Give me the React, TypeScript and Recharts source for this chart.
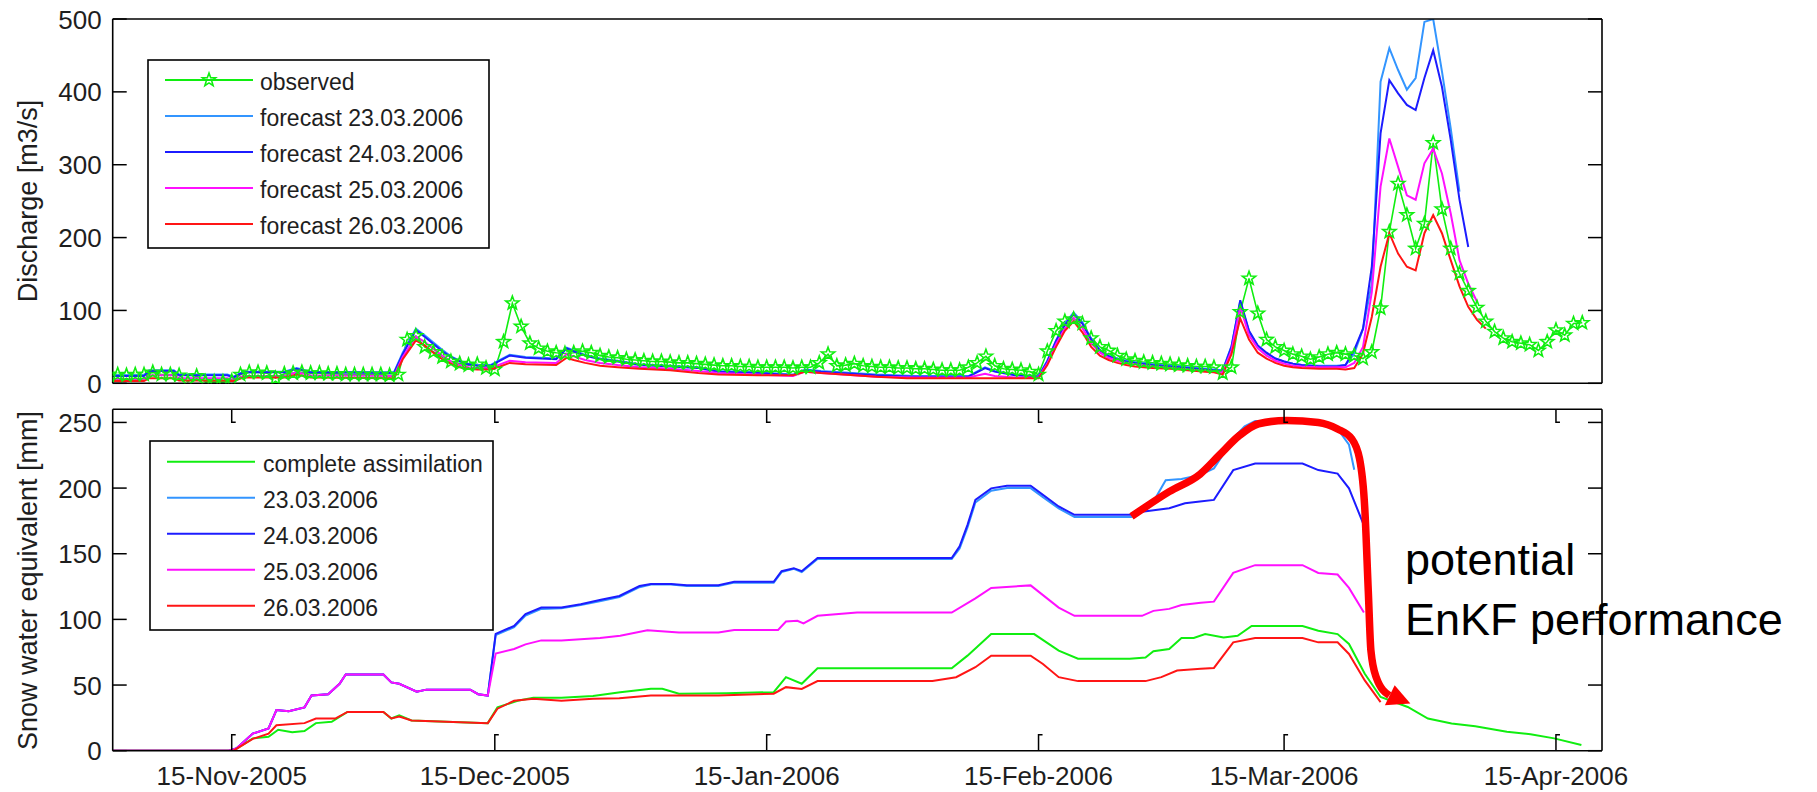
import React from 'react';
import { LineChart, Line, XAxis, YAxis, ReferenceDot } from 'recharts';

const FONT = '"Liberation Sans", Arial, Helvetica, sans-serif';
const INK = '#1e1e1e';

// x axis: day number counted from 1-Nov-2005 (0 = 1 Nov 2005)
const DAY_MIN = 0.43;
const DAY_MAX = 170.25;
const DATE_TICKS = [14, 44, 75, 106, 134, 165];
const DATE_LABELS = ['15-Nov-2005', '15-Dec-2005', '15-Jan-2006', '15-Feb-2006', '15-Mar-2006', '15-Apr-2006'];

const Q_TICKS = [0, 100, 200, 300, 400, 500];
const SWE_TICKS = [0, 50, 100, 150, 200, 250];

const GREEN = '#10ee10';
const LIGHT_BLUE = '#3395ff';
const BLUE = '#1c1cff';
const MAGENTA = '#ff10ff';
const RED = '#ff1515';

// observed daily discharge [m3/s], one value per day from 1-Nov-2005
const observedDischarge = [
  11, 12, 11, 12, 12, 15, 12, 12, 11, 2,
  10, 2, 2, 2, 3, 12, 15, 15, 14, 7,
  13, 14, 15, 14, 14, 13, 13, 12, 12, 12,
  12, 12, 11, 12, 60, 65, 50, 43, 36, 30,
  27, 25, 26, 21, 19, 57, 110, 78, 55, 48,
  44, 42, 41, 42, 44, 42, 38, 36, 35, 33,
  32, 31, 30, 30, 29, 28, 28, 27, 26, 25,
  24, 24, 23, 23, 22, 22, 22, 22, 21, 22,
  22, 28, 40, 24, 25, 27, 24, 23, 22, 22,
  21, 21, 20, 20, 19, 18, 18, 18, 22, 28,
  37, 24, 20, 19, 18, 16, 12, 44, 72, 85,
  88, 82, 62, 50, 45, 38, 33, 31, 29, 28,
  27, 26, 25, 24, 23, 23, 22, 14, 22, 98,
  144, 96, 60, 50, 45, 40, 37, 33, 36, 40,
  42, 40, 38, 34, 43, 103, 208, 274, 231, 185,
  219, 330, 239, 185, 151, 127, 104, 85, 71, 62,
  57, 55, 53, 45, 57, 73, 66, 82, 83,
];

// simulated discharge [day, m3/s] for the four forecast runs
const forecastQ23: [number, number][] = [
  [0, 11], [4, 11], [4.6, 18], [7.4, 18], [8, 12], [13.5, 12], [14.2, 9], [15.3, 16], [20, 16], [21.4, 21],
  [23, 16], [32.5, 15], [33.5, 42], [35, 75], [36, 66], [37, 56], [38, 46], [39, 37], [40, 31], [41, 27],
  [42, 25], [43.5, 25], [44.6, 32], [45.7, 39], [47.5, 36], [51, 34], [52.2, 49], [53, 45], [54.3, 39], [56, 34],
  [58, 31], [60.5, 26], [64, 24], [67.2, 22], [69.5, 17], [74, 15], [78, 12], [79.4, 19], [81.2, 17], [87.5, 12],
  [92, 10], [98, 10], [99.9, 22], [101, 17], [103.3, 12], [106, 10], [107, 31], [108, 59], [109, 82], [110, 97],
  [111, 84], [112, 61], [113, 46], [114, 38], [115, 34], [116, 31], [117, 29], [119, 26], [121, 24], [123, 22],
  [125, 20], [126, 19], [127, 18], [128, 51], [129, 112], [130, 71], [131, 51], [132, 41], [133, 34], [134, 30],
  [135, 27], [136, 25], [138, 24], [140, 24], [141, 25], [142, 41], [143, 75], [144, 137], [145, 414], [146, 460],
  [147, 430], [148, 403], [149, 419], [150, 496], [151, 500], [152, 428], [153, 350], [154, 263],
];

const forecastQ24: [number, number][] = [
  [0, 10], [4, 10], [4.6, 17], [7.4, 17], [8, 11], [13.5, 11], [14.2, 8], [15.3, 15], [20, 15], [21.4, 20],
  [23, 15], [32.5, 14], [33.5, 40], [35, 73], [36, 64], [37, 54], [38, 44], [39, 36], [40, 30], [41, 26],
  [42, 24], [43.5, 24], [44.6, 31], [45.7, 38], [47.5, 35], [51, 33], [52.2, 48], [53, 44], [54.3, 38], [56, 33],
  [58, 30], [60.5, 25], [64, 23], [67.2, 21], [69.5, 16], [74, 14], [78, 11], [79.4, 18], [81.2, 16], [87.5, 11],
  [92, 9], [98, 9], [99.9, 21], [101, 16], [103.3, 11], [106, 9], [107, 30], [108, 58], [109, 80], [110, 95],
  [111, 82], [112, 60], [113, 45], [114, 37], [115, 33], [116, 30], [117, 28], [119, 25], [121, 23], [123, 21],
  [125, 19], [126, 18], [127, 17], [128, 50], [129, 114], [130, 72], [131, 52], [132, 42], [133, 34], [134, 30],
  [135, 27], [136, 25], [138, 23], [140, 23], [141, 25], [142, 46], [143, 75], [144, 160], [145, 343], [146, 416],
  [147, 398], [148, 382], [149, 375], [150, 419], [151, 457], [152, 407], [153, 334], [154, 252], [155, 187],
];

const forecastQ25: [number, number][] = [
  [0, 6], [4, 6], [4.6, 11], [7.4, 11], [8, 7], [13.5, 7], [14.2, 5], [15.3, 10], [20, 10], [21.4, 15],
  [23, 11], [32.5, 10], [33.5, 36], [35, 64], [36, 57], [37, 47], [38, 38], [39, 30], [40, 25], [41, 22],
  [42, 21], [43.5, 21], [44.6, 26], [45.7, 31], [47.5, 29], [51, 28], [52.2, 40], [53, 37], [54.3, 32], [56, 28],
  [58, 25], [60.5, 22], [64, 20], [67.2, 17], [69.5, 14], [74, 12], [78, 10], [79.4, 16], [81.2, 14], [87.5, 9],
  [92, 8], [98, 8], [99.9, 13], [101, 10], [103.3, 8], [106, 8], [107, 27], [108, 54], [109, 75], [110, 90],
  [111, 76], [112, 55], [113, 42], [114, 35], [115, 31], [116, 28], [117, 26], [119, 23], [121, 21], [123, 19],
  [125, 17], [126, 16], [127, 15], [128, 45], [129, 105], [130, 66], [131, 48], [132, 38], [133, 31], [134, 27],
  [135, 24], [136, 23], [138, 22], [140, 22], [141, 22], [142, 28], [143, 50], [144, 125], [145, 270], [146, 336],
  [147, 297], [148, 258], [149, 252], [150, 302], [151, 322], [152, 288], [153, 233], [154, 169], [155, 137], [156, 112],
];

const forecastQ26: [number, number][] = [
  [0, 3], [4, 3], [4.6, 7], [7.4, 7], [8, 4], [13.5, 4], [14.2, 3], [15.3, 8], [20, 8], [21.4, 12],
  [23, 8], [32.5, 7], [33.5, 33], [35, 59], [36, 52], [37, 42], [38, 33], [39, 27], [40, 22], [41, 20],
  [42, 19], [43.5, 19], [44.6, 23], [45.7, 28], [47.5, 26], [51, 25], [52.2, 35], [53, 32], [54.3, 28], [56, 24],
  [58, 22], [60.5, 20], [64, 18], [67.2, 14], [69.5, 12], [74, 11], [78, 11], [79.4, 16], [81.2, 14], [87.5, 9],
  [91, 7], [106, 7], [107, 25], [108, 50], [109, 72], [110, 85], [111, 70], [112, 50], [113, 38], [114, 32],
  [115, 28], [116, 25], [117, 23], [119, 21], [121, 20], [123, 18], [125, 16], [126, 15], [127, 12], [128, 40],
  [129, 89], [130, 60], [131, 42], [132, 34], [133, 28], [134, 24], [135, 22], [136, 21], [138, 20], [140, 20],
  [141, 19], [142, 21], [143, 41], [144, 91], [145, 160], [146, 206], [147, 178], [148, 160], [149, 155], [150, 206],
  [151, 231], [152, 206], [153, 169], [154, 133], [155, 105], [156, 87], [157, 75],
];

// snow water equivalent [day, mm]
const sweComplete: [number, number][] = [
  [0, 0], [14.2, 0], [16.4, 9.4], [18.2, 10.6], [19.3, 16], [20.9, 14], [22.3, 15], [23.6, 21], [25.4, 22], [27.2, 29.5],
  [31.3, 29.5], [32.2, 24.5], [33.1, 27], [34.5, 23], [43.2, 21], [44.3, 33], [46.6, 38], [48.4, 40.4], [51.6, 40.4], [55.2, 41.6],
  [58.3, 44.6], [61.8, 47.2], [63.1, 47.2], [65, 43.4], [70.4, 43.8], [75.8, 44.6], [77.2, 56], [79, 51], [80.8, 62.8], [96.1, 62.8],
  [97.9, 72.4], [100.6, 88.8], [105.5, 88.8], [108.3, 76.2], [110.5, 70], [116.4, 70], [118.2, 71], [119.1, 75.7], [120.9, 77.5], [122.3, 85.8],
  [123.7, 85.8], [125, 88.8], [127.1, 86.3], [128.7, 87.5], [130.3, 95], [136.1, 95], [137.9, 91.3], [140.1, 88.8], [141.4, 81.3], [143.2, 58.6],
  [145, 40.9], [148.1, 33.3], [150.4, 24.5], [153.1, 20.7], [155.8, 18.7], [159.4, 14.4], [162.1, 12.6], [164.8, 9.4], [167.9, 4.3],
];

const swe23: [number, number][] = [
  [0, 0], [13.7, 0], [14.6, 2], [16.4, 13], [18.2, 17], [19.1, 31], [20.5, 30], [22.3, 33], [23.1, 42], [25, 43],
  [26.3, 51], [27, 58], [31.3, 58], [32.2, 52], [33.1, 51], [35.1, 45], [36.2, 46.5], [41.2, 46.5], [42.1, 43], [43.2, 42],
  [44.1, 88], [46.2, 94], [47.5, 103], [49.3, 108], [51.6, 108.5], [53.8, 111], [56.1, 114], [58.2, 117], [60.5, 124.5], [61.8, 126.5],
  [64.1, 126.5], [65.9, 125.5], [69.5, 125.5], [71.3, 128], [75.8, 128], [76.7, 136], [78.1, 138.5], [79, 136], [80.8, 146], [96.1, 146],
  [97, 154], [97.9, 170], [98.8, 189], [100.6, 198], [102.4, 200], [105.1, 200], [106.5, 193], [108.3, 184.5], [110.1, 178], [116.6, 178],
  [118, 183], [119.3, 192], [120.5, 206], [122.3, 207], [124.4, 210], [126, 215], [127, 225], [128.2, 238], [129.5, 247], [130.7, 251],
  [136.1, 251], [137.9, 249], [140.1, 245], [141.4, 233], [142, 214],
];

const swe24: [number, number][] = [
  [0, 0], [13.7, 0], [14.6, 2], [16.4, 13], [18.2, 17], [19.1, 31], [20.5, 30], [22.3, 33], [23.1, 42], [25, 43],
  [26.3, 51], [27, 58], [31.3, 58], [32.2, 52], [33.1, 51], [35.1, 45], [36.2, 46.5], [41.2, 46.5], [42.1, 43], [43.2, 42],
  [44.1, 89], [46.2, 95], [47.5, 104], [49.3, 109], [51.6, 109], [53.8, 111.5], [56.1, 115], [58.2, 117.8], [60.5, 125.4], [61.8, 127],
  [64.1, 127], [65.9, 126], [69.5, 126], [71.3, 128.6], [75.8, 128.6], [76.7, 136.7], [78.1, 139], [79, 136.7], [80.8, 146.8], [96.1, 146.8],
  [97, 155.6], [97.9, 172], [98.8, 191], [100.6, 199.8], [102.4, 201.8], [105.1, 201.8], [106.5, 194.8], [108.3, 186], [110.1, 179.6], [116.6, 179.6],
  [117.8, 182], [120.9, 184.6], [122.7, 188.4], [124.4, 189.7], [126, 191], [128.2, 213.7], [130.7, 218.7], [136.1, 218.7], [137.9, 213.7], [140.1, 211],
  [141.4, 199.8], [143, 173.3],
];

const swe25: [number, number][] = [
  [0, 0], [13.7, 0], [14.6, 2], [16.4, 13], [18.2, 17], [19.1, 31], [20.5, 30], [22.3, 33], [23.1, 42], [25, 43],
  [26.3, 51], [27, 58], [31.3, 58], [32.2, 52], [33.1, 51], [35.1, 45], [36.2, 46.5], [41.2, 46.5], [42.1, 43], [43.2, 42],
  [44.1, 74], [46.2, 77.5], [47.5, 81], [49.3, 84], [51.6, 84], [54.2, 85], [56, 85.8], [58.3, 87.5], [61.4, 91.8], [65, 90],
  [69.5, 90], [71.3, 92], [76.3, 92], [77.2, 98.4], [78.5, 98.9], [79.2, 96.9], [80.8, 102.7], [85.3, 105.2], [96.1, 105.2], [98.8, 116],
  [100.6, 124], [105.1, 125.9], [108.3, 109], [110.1, 102.7], [117.8, 102.7], [119.1, 106.5], [120.9, 108], [122.3, 111], [124.5, 112.7], [126, 113.5],
  [128.2, 135.4], [130.7, 141.3], [136.1, 141.3], [137.9, 135.4], [140.1, 134.2], [141.4, 124], [143.1, 105.2],
];

const swe26: [number, number][] = [
  [0, 0], [14.2, 0], [16.4, 9], [18.2, 13], [19.1, 19.4], [22.3, 21], [23.6, 24.5], [25.8, 24.5], [27.2, 29.5], [31.3, 29.5],
  [32.2, 24.5], [33.1, 26], [34.5, 23], [43.2, 21], [44.3, 32], [46.2, 38], [48.4, 39.6], [51.6, 38], [55.2, 39.6], [58.2, 40],
  [61.8, 42], [69.5, 42], [75.8, 43.4], [77.2, 48.4], [79, 47], [80.8, 53], [93.9, 53], [96.6, 56], [98.8, 63.6], [100.6, 72.4],
  [105.1, 72.4], [106.5, 66], [108.3, 56], [110.5, 53], [118.2, 53], [120, 56], [121.8, 61], [124.5, 62.5], [126, 63], [128.2, 82.5],
  [130.7, 85.8], [136.1, 85.8], [137.9, 82.5], [140.1, 82.5], [141.4, 73.7], [143.2, 53.5], [145, 37],
];

// hand-drawn "potential EnKF performance" arrow, in [day, mm]
const enkfArrowPath: [number, number][] = [
  [116.6, 178.4], [120.9, 197.3], [124.4, 210.5], [126.6, 225], [128.9, 240], [131.1, 249], [134.3, 251.5],
  [137.9, 250], [140.1, 245], [141.7, 237.6], [142.6, 222.5], [143.2, 184.6], [143.6, 121.6], [143.9, 76.2],
  [144.5, 56], [146, 42],
];
const enkfArrowTip: [number, number] = [148.4, 36];

const toPoints = (pairs: [number, number][]) => pairs.map(([x, v]) => ({ x, v }));
const observedPoints = observedDischarge.map((v, i) => ({ x: i, v }));

const AXIS_LINE = { stroke: '#000', strokeWidth: 1.6 };

function StarMarker({ cx, cy, color }: { cx: number; cy: number; color: string }) {
  if (cx == null || cy == null) return null;
  const pts: string[] = [];
  for (let i = 0; i < 10; i++) {
    const r = i % 2 === 0 ? 7 : 2.9;
    const a = -Math.PI / 2 + (i * Math.PI) / 5;
    pts.push(`${(cx + r * Math.cos(a)).toFixed(2)},${(cy + r * Math.sin(a)).toFixed(2)}`);
  }
  return <polygon points={pts.join(' ')} fill="none" stroke={color} strokeWidth={1.6} />;
}

function ValueTick(props: any) {
  const { x, y, payload } = props;
  return (
    <g>
      <line x1={x} y1={y} x2={x + 14} y2={y} stroke="#000" strokeWidth={1.5} />
      <text x={x - 11} y={y + 9.5} textAnchor="end" fontSize={26} fontFamily={FONT} fill={INK}>
        {payload.value}
      </text>
    </g>
  );
}

function RightTick(props: any) {
  const { x, y } = props;
  return <line x1={x} y1={y} x2={x - 14} y2={y} stroke="#000" strokeWidth={1.5} />;
}

function DateTick(props: any) {
  const { x, y, payload } = props;
  const label = DATE_LABELS[DATE_TICKS.indexOf(payload.value)];
  return (
    <g>
      <path d={`M${x},${y} V${y - 16} h4`} stroke="#000" strokeWidth={1.5} fill="none" />
      <text x={x} y={y + 34} textAnchor="middle" fontSize={26} fontFamily={FONT} fill={INK}>
        {label}
      </text>
    </g>
  );
}

function DateTickTop(props: any) {
  const { x, y } = props;
  return <path d={`M${x},${y} V${y + 13} h4`} stroke="#000" strokeWidth={1.5} fill="none" />;
}

type LegendRow = { label: string; color: string; marker?: boolean };

function LegendBox(props: {
  x: number; y: number; w: number; h: number; rows: LegendRow[];
  firstRowY: number; rowGap: number; lineX1: number; lineX2: number; textX: number;
}) {
  const { x, y, w, h, rows, firstRowY, rowGap, lineX1, lineX2, textX } = props;
  return (
    <g>
      <rect x={x} y={y} width={w} height={h} fill="#fff" stroke="#000" strokeWidth={1.6} />
      {rows.map((r, i) => {
        const ry = firstRowY + i * rowGap;
        return (
          <g key={r.label}>
            <line x1={lineX1} x2={lineX2} y1={ry} y2={ry} stroke={r.color} strokeWidth={2} />
            {r.marker ? <StarMarker cx={(lineX1 + lineX2) / 2} cy={ry} color={r.color} /> : null}
            <text x={textX} y={ry + 10} fontSize={23} fontFamily={FONT} fill={INK}>
              {r.label}
            </text>
          </g>
        );
      })}
    </g>
  );
}

const dischargeLegend: LegendRow[] = [
  { label: 'observed', color: GREEN, marker: true },
  { label: 'forecast 23.03.2006', color: LIGHT_BLUE },
  { label: 'forecast 24.03.2006', color: BLUE },
  { label: 'forecast 25.03.2006', color: MAGENTA },
  { label: 'forecast 26.03.2006', color: RED },
];

const sweLegend: LegendRow[] = [
  { label: 'complete assimilation', color: GREEN },
  { label: '23.03.2006', color: LIGHT_BLUE },
  { label: '24.03.2006', color: BLUE },
  { label: '25.03.2006', color: MAGENTA },
  { label: '26.03.2006', color: RED },
];

const lineCommon = {
  xAxisId: 'date',
  yAxisId: 'val',
  dataKey: 'v',
  type: 'linear' as const,
  dot: false,
  activeDot: false,
  isAnimationActive: false,
  strokeWidth: 2,
};

export default function App() {
  return (
    <div style={{ position: 'absolute', left: 0, top: 0, width: 1817, height: 792, background: '#fff' }}>
      <div style={{ position: 'absolute', left: 0, top: 0 }}>
        <LineChart width={1817} height={400} margin={{ top: 18, right: 205, bottom: 15.7, left: 52.7 }}>
          <XAxis xAxisId="date" type="number" dataKey="x" domain={[DAY_MIN, DAY_MAX]} allowDataOverflow
            height={1} tick={false} tickLine={false} axisLine={AXIS_LINE} />
          <XAxis xAxisId="frameTop" orientation="top" type="number" dataKey="x" domain={[DAY_MIN, DAY_MAX]}
            allowDataOverflow height={1} tick={false} tickLine={false} axisLine={AXIS_LINE} />
          <YAxis yAxisId="val" type="number" domain={[0, 500]} ticks={Q_TICKS} interval={0} allowDataOverflow
            width={60} tickSize={0} tickMargin={0} tickLine={false} axisLine={AXIS_LINE}
            tick={(p: any) => <ValueTick {...p} />} />
          <YAxis yAxisId="frameRight" orientation="right" type="number" domain={[0, 500]} ticks={Q_TICKS}
            interval={0} allowDataOverflow width={10} tickSize={0} tickMargin={0} tickLine={false}
            axisLine={AXIS_LINE} tick={(p: any) => <RightTick {...p} />} />
          <Line {...lineCommon} data={observedPoints} stroke={GREEN} strokeWidth={1.6}
            dot={(p: any) => <StarMarker key={`obs-${p.index}`} cx={p.cx} cy={p.cy} color={GREEN} />} />
          <Line {...lineCommon} data={toPoints(forecastQ23)} stroke={LIGHT_BLUE} />
          <Line {...lineCommon} data={toPoints(forecastQ24)} stroke={BLUE} />
          <Line {...lineCommon} data={toPoints(forecastQ25)} stroke={MAGENTA} />
          <Line {...lineCommon} data={toPoints(forecastQ26)} stroke={RED} />
        </LineChart>
      </div>

      <div style={{ position: 'absolute', left: 0, top: 400 }}>
        <LineChart width={1817} height={392} margin={{ top: 8.3, right: 205, bottom: 40.3, left: 52.7 }}>
          <XAxis xAxisId="date" type="number" dataKey="x" domain={[DAY_MIN, DAY_MAX]} allowDataOverflow
            ticks={DATE_TICKS} interval={0} height={1} tickSize={0} tickMargin={0} tickLine={false}
            axisLine={AXIS_LINE} tick={(p: any) => <DateTick {...p} />} />
          <XAxis xAxisId="frameTop" orientation="top" type="number" dataKey="x" domain={[DAY_MIN, DAY_MAX]}
            allowDataOverflow ticks={DATE_TICKS} interval={0} height={1} tickSize={0} tickMargin={0}
            tickLine={false} axisLine={AXIS_LINE} tick={(p: any) => <DateTickTop {...p} />} />
          <YAxis yAxisId="val" type="number" domain={[0, 260]} ticks={SWE_TICKS} interval={0} allowDataOverflow
            width={60} tickSize={0} tickMargin={0} tickLine={false} axisLine={AXIS_LINE}
            tick={(p: any) => <ValueTick {...p} />} />
          <YAxis yAxisId="frameRight" orientation="right" type="number" domain={[0, 260]} ticks={SWE_TICKS}
            interval={0} allowDataOverflow width={10} tickSize={0} tickMargin={0} tickLine={false}
            axisLine={AXIS_LINE} tick={(p: any) => <RightTick {...p} />} />
          <Line {...lineCommon} data={toPoints(sweComplete)} stroke={GREEN} />
          <Line {...lineCommon} data={toPoints(swe23)} stroke={LIGHT_BLUE} />
          <Line {...lineCommon} data={toPoints(swe24)} stroke={BLUE} />
          <Line {...lineCommon} data={toPoints(swe25)} stroke={MAGENTA} />
          <Line {...lineCommon} data={toPoints(swe26)} stroke={RED} />
          <Line {...lineCommon} data={toPoints(enkfArrowPath)} type="monotone" stroke="#ff0000"
            strokeWidth={7.5} />
          <ReferenceDot xAxisId="date" yAxisId="val" x={enkfArrowTip[0]} y={enkfArrowTip[1]} r={0}
            ifOverflow="visible"
            shape={(p: any) => (
              <polygon
                points={`${p.cx},${p.cy} ${p.cx - 25.5},${p.cy + 1.7} ${p.cx - 15.7},${p.cy - 18.3}`}
                fill="#ff0000"
              />
            )} />
        </LineChart>
      </div>

      <svg width={1817} height={792} style={{ position: 'absolute', left: 0, top: 0, pointerEvents: 'none' }}>
        <text transform="rotate(-90 37 201)" x={37} y={201} textAnchor="middle" fontSize={27} fontFamily={FONT} fill={INK}>
          Discharge [m3/s]
        </text>
        <text transform="rotate(-90 37 580.5)" x={37} y={580.5} textAnchor="middle" fontSize={27} fontFamily={FONT} fill={INK}>
          Snow water equivalent [mm]
        </text>
        <LegendBox x={148} y={60} w={341} h={188} rows={dischargeLegend} firstRowY={80} rowGap={36}
          lineX1={165} lineX2={253} textX={260} />
        <LegendBox x={150} y={441} w={343} h={189} rows={sweLegend} firstRowY={461.7} rowGap={36}
          lineX1={167} lineX2={255} textX={263} />
        <text x={1405} y={575} fontSize={45} fontFamily={FONT} fill="#000">potential</text>
        <text x={1405} y={635} fontSize={45} fontFamily={FONT} fill="#000">EnKF performance</text>
      </svg>
    </div>
  );
}
